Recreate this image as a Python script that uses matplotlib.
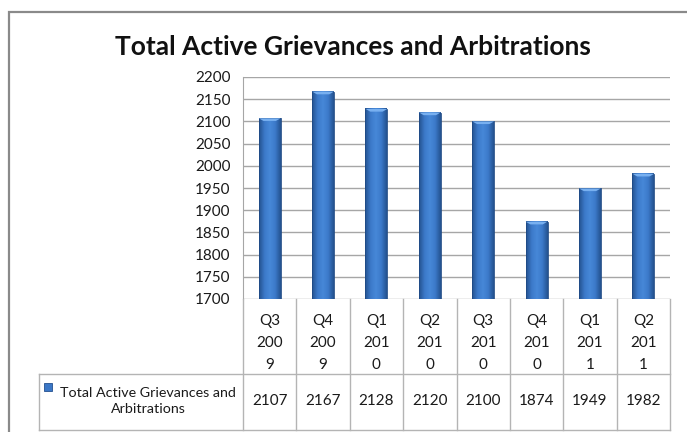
import numpy as np
import matplotlib
matplotlib.use("Agg")
import matplotlib.pyplot as plt
from matplotlib.patches import Rectangle
from matplotlib.lines import Line2D
from matplotlib.colors import LinearSegmentedColormap
import matplotlib.transforms as mtransforms

plt.rcParams['font.family'] = ['Lato', 'DejaVu Sans']

# data
quarters = ['Q3\n200\n9', 'Q4\n200\n9', 'Q1\n201\n0', 'Q2\n201\n0',
            'Q3\n201\n0', 'Q4\n201\n0', 'Q1\n201\n1', 'Q2\n201\n1']
grievances = [2107, 2167, 2128, 2120, 2100, 1874, 1949, 1982]
series_name = 'Total Active Grievances and\nArbitrations'
title = 'Total Active Grievances and Arbitrations'
y_ticks = list(range(1700, 2201, 50))

W, H = 687, 432
fig = plt.figure(figsize=(W / 100, H / 100), dpi=100)

def fx(px):
    return px / W

def fy(px):
    return 1 - px / H

# outer chart frame (runs off the right and bottom edge)
fig.patches.append(Rectangle((fx(9), -0.02), 1.05, fy(12) + 0.02,
                             transform=fig.transFigure, fill=False,
                             edgecolor='#8a8a8a', linewidth=1.6))

ax = fig.add_axes([fx(243), fy(299), fx(670) - fx(243), fy(77) - fy(299)])
x = np.arange(len(grievances))
base = y_ticks[0]
bw = 0.41

# bars: horizontal shading, dark at the sides and lighter in the middle
shade = LinearSegmentedColormap.from_list(
    'bar', ['#24528f', '#3b79c9', '#4788d8', '#3b79c9', '#24528f'])
grad = np.linspace(0, 1, 64).reshape(1, -1)
ax.bar(x, np.array(grievances) - base, bottom=base, width=bw,
       color='none', edgecolor='#1f4a85', linewidth=0.6, zorder=4)
for xi, v in zip(x, grievances):
    ax.imshow(grad, cmap=shade, aspect='auto', zorder=3,
              extent=(xi - bw / 2, xi + bw / 2, base, v))
    # lighter bevel at top
    ax.fill([xi - bw / 2, xi + bw / 2, xi + bw / 2 - 0.09, xi - bw / 2 + 0.09],
            [v, v, v - 6, v - 6], color='#78b0f0', linewidth=0, zorder=5)

ax.set_xlim(-0.5, len(grievances) - 0.5)
ax.set_ylim(y_ticks[0], y_ticks[-1])
ax.set_yticks(y_ticks)
ax.yaxis.grid(True, color='#a6a6a6', linewidth=1.0, zorder=0)
ax.set_axisbelow(True)
ax.set_xticks([])
ax.tick_params(axis='y', length=0, labelsize=11, pad=9, colors='#1a1a1a')
for s in ['top', 'right', 'bottom']:
    ax.spines[s].set_visible(False)
ax.spines['left'].set_color('#a6a6a6')

fig.text(fx(353), fy(47), title, ha='center', va='center',
         fontsize=19, fontweight='bold', color='#111111')

# data table under the plot
bt = mtransforms.blended_transform_factory(ax.transData, fig.transFigure)
line_c = '#b4b4b4'
row_top, row_mid, row_bot = fy(299), fy(374), fy(430)
for i in range(len(x) + 1):
    xe = i - 0.5
    fig.lines.append(Line2D([xe, xe], [row_bot, row_top], transform=bt,
                            color=line_c, linewidth=1.0))
fig.lines.append(Line2D([fx(39), fx(670)], [row_mid, row_mid],
                        transform=fig.transFigure, color=line_c, linewidth=1.0))
fig.lines.append(Line2D([fx(39), fx(670)], [row_bot, row_bot],
                        transform=fig.transFigure, color=line_c, linewidth=1.0))
fig.lines.append(Line2D([fx(39), fx(39)], [row_bot, row_mid],
                        transform=fig.transFigure, color=line_c, linewidth=1.0))

for xi, q, v in zip(x, quarters, grievances):
    fig.text(xi, fy(343), q, transform=bt, ha='center', va='center',
             fontsize=11, linespacing=1.75, color='#1a1a1a')
    fig.text(xi, fy(401), str(v), transform=bt, ha='center', va='center',
             fontsize=11, color='#1a1a1a')

fig.patches.append(Rectangle((fx(44), fy(391)), fx(8), fy(383) - fy(391),
                             transform=fig.transFigure, facecolor='#3b77c6',
                             edgecolor='#24508f', linewidth=0.6))
fig.text(fx(148), fy(401), series_name, ha='center', va='center',
         fontsize=10.3, linespacing=1.45, color='#1a1a1a')

fig.savefig('out.png', dpi=100)
